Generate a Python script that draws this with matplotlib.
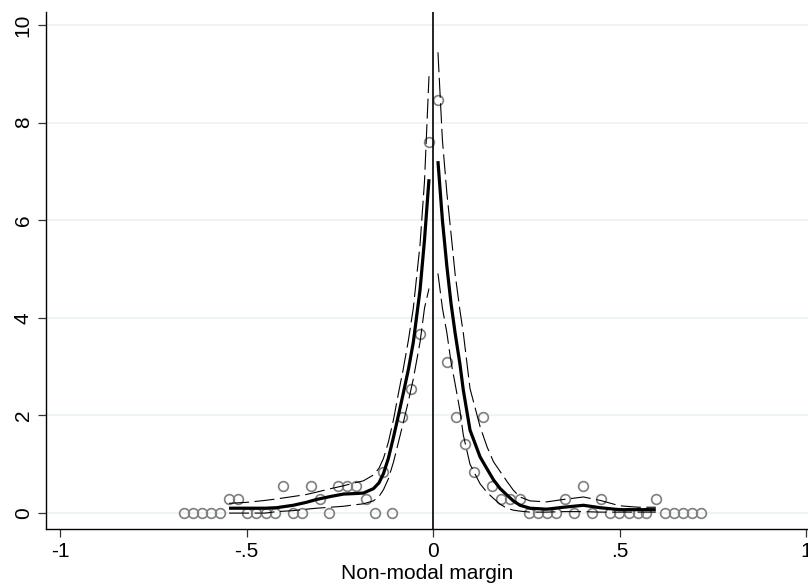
import matplotlib
matplotlib.use("Agg")
import matplotlib.pyplot as plt

plt.rcParams['font.family'] = ['Liberation Sans Narrow', 'Liberation Sans', 'DejaVu Sans']

# binned density (circles)
bin_x = [-0.668, -0.644, -0.619, -0.595, -0.571, -0.547, -0.522, -0.498, -0.474, -0.449,
         -0.425, -0.401, -0.376, -0.352, -0.328, -0.303, -0.279, -0.255, -0.230, -0.206,
         -0.181, -0.157, -0.133, -0.109, -0.084, -0.060, -0.036, -0.011, 0.013, 0.037,
         0.062, 0.086, 0.110, 0.134, 0.159, 0.183, 0.207, 0.232, 0.256, 0.280,
         0.305, 0.329, 0.353, 0.378, 0.402, 0.426, 0.451, 0.475, 0.499, 0.524,
         0.548, 0.572, 0.597, 0.621, 0.645, 0.670, 0.694, 0.718]
bin_y = [0, 0, 0, 0, 0, 0.28, 0.28, 0, 0, 0,
         0, 0.56, 0, 0, 0.56, 0.28, 0, 0.56, 0.56, 0.56,
         0.28, 0, 0.85, 0, 1.97, 2.54, 3.66, 7.61, 8.46, 3.10,
         1.97, 1.41, 0.85, 1.97, 0.56, 0.28, 0.28, 0.28, 0, 0,
         0, 0, 0.28, 0, 0.56, 0, 0.28, 0, 0, 0,
         0, 0, 0.28, 0, 0, 0, 0, 0]

# left-side fit with confidence band
left_x = [-0.547, -0.50, -0.45, -0.42, -0.375, -0.34, -0.312, -0.275, -0.240, -0.210, -0.187,
          -0.160, -0.145, -0.133, -0.120, -0.106, -0.093, -0.080, -0.066, -0.053, -0.035, -0.023, -0.011]
left_fit = [0.10, 0.10, 0.10, 0.11, 0.16, 0.22, 0.28, 0.34, 0.39, 0.40, 0.41,
            0.50, 0.62, 0.81, 1.12, 1.56, 2.00, 2.45, 2.95, 3.50, 4.57, 5.60, 6.84]
left_hi = [0.20, 0.22, 0.26, 0.29, 0.34, 0.38, 0.43, 0.50, 0.56, 0.62, 0.66,
           0.78, 0.92, 1.12, 1.45, 1.92, 2.45, 2.95, 3.55, 4.20, 5.50, 6.80, 8.95]
left_lo = [0.00, 0.00, 0.00, 0.03, 0.05, 0.08, 0.10, 0.12, 0.14, 0.17, 0.19,
           0.25, 0.34, 0.48, 0.70, 1.05, 1.45, 1.85, 2.30, 2.75, 3.50, 4.20, 4.60]

# right-side fit with confidence band
right_x = [0.013, 0.025, 0.037, 0.048, 0.059, 0.072, 0.081, 0.099, 0.126, 0.145, 0.162,
           0.180, 0.198, 0.215, 0.233, 0.260, 0.305, 0.350, 0.403, 0.448, 0.500, 0.550, 0.597]
right_fit = [7.21, 6.00, 5.05, 4.30, 3.69, 3.05, 2.52, 1.70, 1.15, 0.90, 0.68,
             0.50, 0.37, 0.25, 0.16, 0.10, 0.08, 0.12, 0.16, 0.11, 0.07, 0.07, 0.07]
right_hi = [9.44, 7.64, 6.55, 5.73, 4.90, 4.15, 3.69, 2.55, 1.77, 1.35, 1.05,
            0.85, 0.65, 0.47, 0.33, 0.25, 0.23, 0.28, 0.33, 0.26, 0.15, 0.12, 0.12]
right_lo = [4.91, 4.20, 3.69, 3.10, 2.65, 2.10, 1.60, 1.00, 0.60, 0.42, 0.30,
            0.18, 0.10, 0.06, 0.04, 0.02, 0.02, 0.03, 0.03, 0.02, 0.02, 0.02, 0.02]

x_ticks = [-1, -0.5, 0, 0.5, 1]
x_labels = ['-1', '-.5', '0', '.5', '1']
y_ticks = [0, 2, 4, 6, 8, 10]

fig = plt.figure(figsize=(8.08, 5.88), dpi=100)
ax = fig.add_axes([0.057, 0.100, 0.943, 0.880])

ax.plot(bin_x, bin_y, 'o', mfc='none', mec='#7f7f7f', ms=7, mew=1.2, zorder=2)

for xs, fit, hi, lo in [(left_x, left_fit, left_hi, left_lo),
                        (right_x, right_fit, right_hi, right_lo)]:
    ax.plot(xs, fit, color='black', lw=2.3, solid_capstyle='butt', zorder=3)
    ax.plot(xs, hi, color='black', lw=0.8, dashes=(18, 5), zorder=3)
    ax.plot(xs, lo, color='black', lw=0.8, dashes=(18, 5), zorder=3)

ax.axvline(0, color='black', lw=1.2, zorder=4)

ax.set_xlim(-1.0375, 1.005)
ax.set_ylim(-0.33, 10.27)
ax.set_xticks(x_ticks)
ax.set_xticklabels(x_labels)
ax.set_yticks(y_ticks)
ax.set_yticklabels([str(t) for t in y_ticks], rotation=90, va='center')
ax.tick_params(labelsize=15, length=6, width=0.9, color='#333333')
ax.grid(axis='y', color='#eaf2f3', lw=1.2, zorder=0)
ax.set_axisbelow(True)
for s in ['top', 'right']:
    ax.spines[s].set_visible(False)
for s in ['left', 'bottom']:
    ax.spines[s].set_linewidth(1.0)
ax.set_xlabel('Non-modal margin', fontsize=15, labelpad=2)

fig.savefig('out.png', dpi=100)
